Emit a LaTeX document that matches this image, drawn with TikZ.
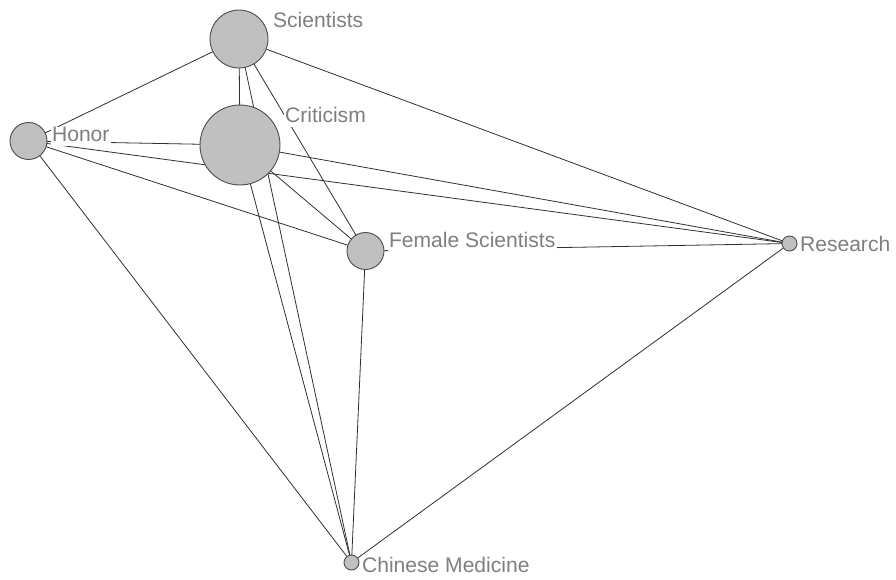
\documentclass[tikz,border=0pt]{standalone}
\usepackage{fontspec}
\setmainfont{Liberation Sans}
\usepackage{tikz}
\usetikzlibrary{positioning, backgrounds}
\definecolor{nwFill}{HTML}{C0C0C0}
\definecolor{nwEdge}{HTML}{303030}
\definecolor{nwRing}{HTML}{505050}
\definecolor{nwText}{HTML}{7F7F7F}
\tikzset{
  nwnode/.style={circle, draw=nwRing, line width=0.7pt, fill=nwFill, inner sep=0pt},
  nwlabel/.style={anchor=base west, fill=white, text=nwText, inner xsep=1pt, inner ysep=1pt,
                  font=\fontsize{15.8pt}{18pt}\selectfont, text height=0.95em, text depth=0.25em},
  nwlink/.style={line width=0.6pt, color=nwEdge},
}
\begin{document}
\begin{tikzpicture}[x=0.75pt, y=-0.75pt]
  \useasboundingbox (0,0) rectangle (896,579);
  % circles, sized by weight
  \node[nwnode, minimum size=43.5pt](scientists) at (239,39){};
  \node[nwnode, minimum size=60pt](criticism) at (240,145){};
  \node[nwnode, minimum size=27.75pt](honor) at (28.5,141){};
  \node[nwnode, minimum size=27.75pt](female) at (365.5,251){};
  \node[nwnode, minimum size=11.25pt](research) at (789.5,243.5){};
  \node[nwnode, minimum size=11.25pt](chinese) at (351.5,562.5){};
  % links
  \begin{scope}[on background layer]
    \draw[nwlink](scientists.center)--(honor.center);
    \draw[nwlink](scientists.center)--(criticism.center);
    \draw[nwlink](scientists.center)--(female.center);
    \draw[nwlink](scientists.center)--(research.center);
    \draw[nwlink](scientists.center)--(chinese.center);
    \draw[nwlink](criticism.center)--(honor.center);
    \draw[nwlink](criticism.center)--(female.center);
    \draw[nwlink](criticism.center)--(research.center);
    \draw[nwlink](criticism.center)--(chinese.center);
    \draw[nwlink](honor.center)--(female.center);
    \draw[nwlink](honor.center)--(research.center);
    \draw[nwlink](honor.center)--(chinese.center);
    \draw[nwlink](female.center)--(research.center);
    \draw[nwlink](female.center)--(chinese.center);
    \draw[nwlink](research.center)--(chinese.center);
  \end{scope}
  % labels
  \node[nwlabel](scientistsT) at (271.5,27){Scientists};
  \node[nwlabel](criticismT) at (283.5,122){Criticism};
  \node[nwlabel](honorT) at (50.5,141){Honor};
  \node[nwlabel](femaleT) at (387.5,247){Female Scientists};
  \node[nwlabel](researchT) at (798.5,251){Research};
  \node[nwlabel](chineseT) at (360.5,572){Chinese Medicine};
\end{tikzpicture}
\end{document}
